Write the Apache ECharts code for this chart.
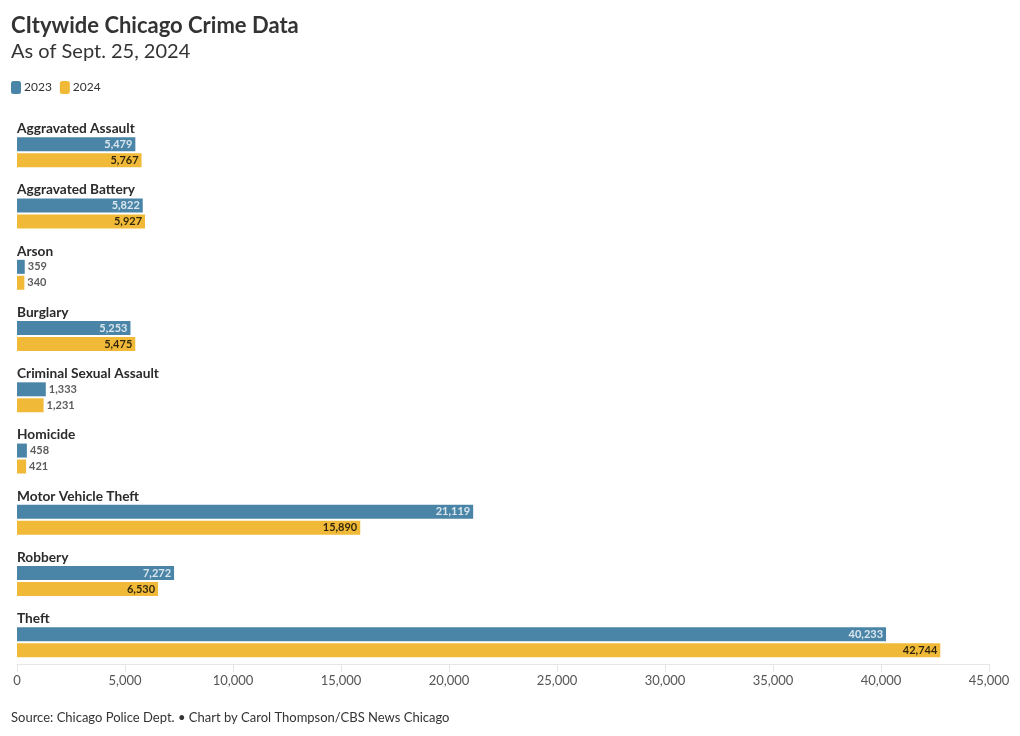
<!DOCTYPE html>
<html><head><meta charset="utf-8">
<script src="https://cdn.jsdelivr.net/npm/echarts@6/dist/echarts.min.js"></script>
<style>html,body{margin:0;padding:0;background:#fff}#c{width:1020px;height:736px}</style>
</head><body><div id="c"></div>
<script>
const categories = ['Aggravated Assault','Aggravated Battery','Arson','Burglary','Criminal Sexual Assault','Homicide','Motor Vehicle Theft','Robbery','Theft'];
const values2023 = [5479,5822,359,5253,1333,458,21119,7272,40233];
const values2024 = [5767,5927,340,5475,1231,421,15890,6530,42744];
const xTicks = [0,5000,10000,15000,20000,25000,30000,35000,40000,45000];
const FONT = 'Lato';
const fmt = v => v.toLocaleString('en-US');
function mk(vals, inColor){
  return vals.map(v => ({
    value: v,
    label: v < 3000
      ? {position:'right', distance:3, color:'#333', fontWeight:'bold'}
      : {position:'insideRight', distance:3, color:inColor, fontWeight:'bold'}
  }));
}
const chart = echarts.init(document.getElementById('c'));
chart.setOption({
  animation:false,
  textStyle:{fontFamily:FONT},
  title:[
    {text:'CItywide Chicago Crime Data', left:11, top:15, padding:0, textStyle:{fontFamily:FONT, fontSize:22, fontWeight:'bold', color:'#333'}},
    {text:'As of Sept. 25, 2024', left:11, top:42, padding:0, textStyle:{fontFamily:FONT, fontSize:20, fontWeight:'normal', color:'#333'}},
    {text:'Source: Chicago Police Dept. • Chart by Carol Thompson/CBS News Chicago', left:11, top:711, padding:0, textStyle:{fontFamily:FONT, fontSize:13, fontWeight:'normal', color:'#333'}}
  ],
  legend:{left:11, top:81, padding:0, icon:'roundRect', itemWidth:10, itemHeight:13, itemGap:8,
    textStyle:{fontFamily:FONT, fontSize:12, color:'#333', padding:[0,0,0,-2]},
    data:['2023','2024']},
  grid:{left:17, right:31, top:121.7, bottom:63.1, containLabel:false},
  xAxis:{type:'value', min:0, max:45000, interval:5000, offset:-9,
    axisLine:{show:true, lineStyle:{color:'#e6e6e6'}},
    axisTick:{show:true, length:8, lineStyle:{color:'#e6e6e6'}},
    splitLine:{show:false},
    axisLabel:{fontFamily:FONT, fontSize:13, color:'#555', margin:10, formatter:v=>fmt(v)}},
  yAxis:{type:'category', inverse:true, data:categories,
    axisLine:{show:false}, axisTick:{show:false},
    axisLabel:{inside:true, interval:0, margin:0, align:'left',
      formatter: v => '{n|' + v + '}\n{s| }',
      rich:{
        n:{fontFamily:FONT, fontSize:13.7, fontWeight:'bold', color:'#2b2b2b', lineHeight:13},
        s:{fontSize:10, lineHeight:47}
      }}},
  series:[
    {name:'2023', type:'bar', data:mk(values2023,'#fff'), barWidth:14, barGap:'14%',
      itemStyle:{color:'#1d6692', opacity:0.8},
      label:{show:true, fontFamily:FONT, fontSize:11, fontWeight:'bold', formatter:p=>fmt(p.value)}},
    {name:'2024', type:'bar', data:mk(values2024,'#000'), barWidth:14, barGap:'14%',
      itemStyle:{color:'#eca906', opacity:0.8},
      label:{show:true, fontFamily:FONT, fontSize:11, fontWeight:'bold', formatter:p=>fmt(p.value)}}
  ]
});
</script></body></html>
